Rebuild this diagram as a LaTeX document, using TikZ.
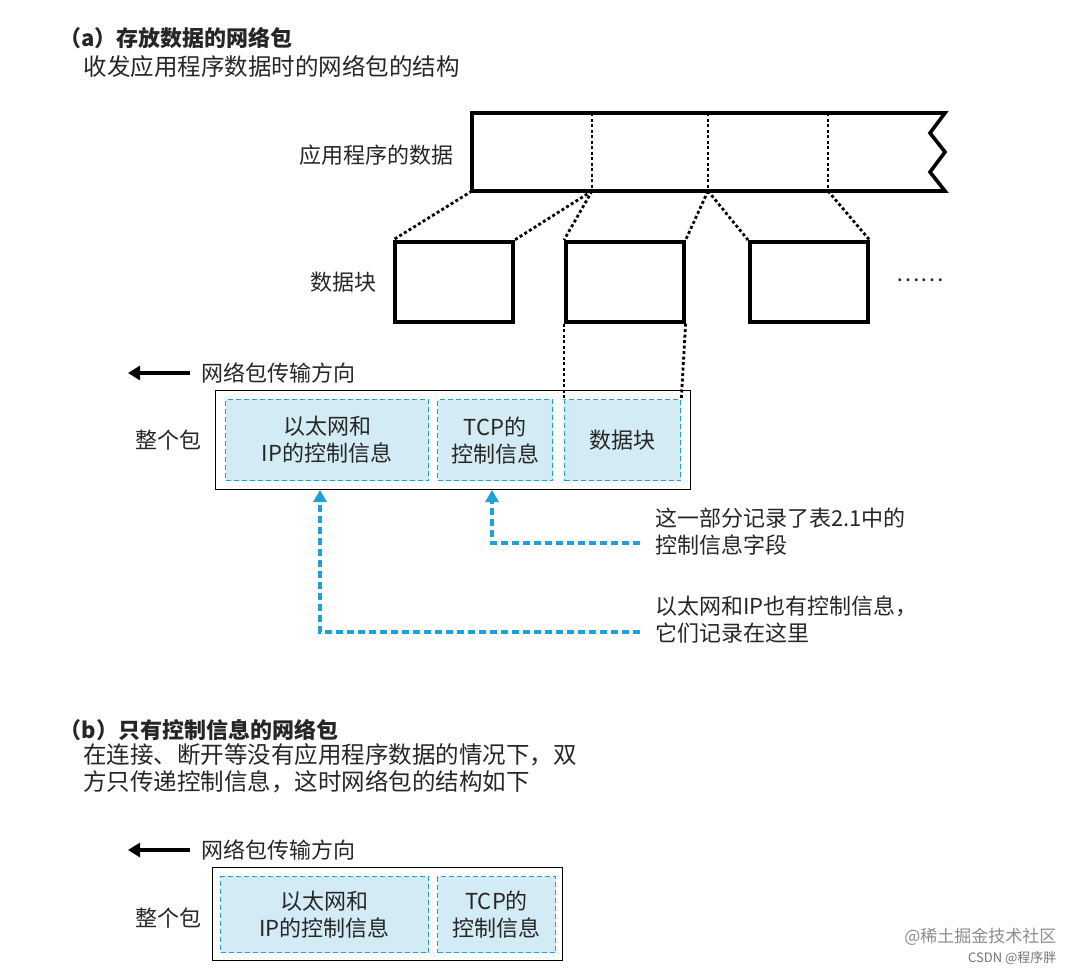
\documentclass[tikz,border=0pt]{standalone}
\usepackage{fontspec}
\setmainfont{Noto Sans CJK SC}
\usetikzlibrary{arrows.meta}
\definecolor{lblue}{HTML}{D2EBF5}
\definecolor{dblue}{HTML}{1FA0D8}
\begin{document}
\begin{tikzpicture}[x=1pt,y=-1pt,
  txt/.style={font=\fontsize{22}{27}\selectfont, text=black!85, align=left},
  sub/.style={font=\fontsize{23.5}{27}\selectfont, text=black!85, align=left},
  blk/.style={draw=black, line width=3.6pt},
  inner/.style={draw=dblue, dash pattern=on 5pt off 3pt, line width=1.3pt, fill=lblue},
  dots/.style={draw=black, dash pattern=on 3pt off 2.5pt, line width=2.8pt},
  bar/.style={draw=black, dash pattern=on 3pt off 2.5pt, line width=1.8pt},
  barrow/.style={draw=dblue, dash pattern=on 7pt off 4pt, line width=3.5pt, -{Triangle[length=12pt,width=13pt]}},
  karrow/.style={draw=black, line width=3.2pt, -{Triangle[length=12pt,width=14pt]}}]
\useasboundingbox (0,0) rectangle (1082,972);
% (a)
\node[txt, anchor=west, font=\fontsize{22}{27}\bfseries] (ta) at (56,38) {（a）存放数据的网络包};
\node[sub, anchor=west] (sa) at (80,66) {收发应用程序数据时的网络包的结构};
% data bar
\draw[blk] (945,113) -- (472,113) -- (472,191) -- (945,191) -- (930,172) -- (945,152) -- (930,133) -- cycle;
\coordinate (b0) at (472,191);
\coordinate (b1) at (592,191);
\coordinate (b2) at (708,191);
\coordinate (b3) at (828,191);
\draw[bar] (592,113) -- (b1);
\draw[bar] (708,113) -- (b2);
\draw[bar] (828,113) -- (b3);
\node[txt, anchor=east] (lapp) at (457,155) {应用程序的数据};
% chunks
\node[blk, minimum width=118pt, minimum height=80pt, anchor=north west] (c1) at (393,240) {};
\node[blk, minimum width=118pt, minimum height=80pt, anchor=north west] (c2) at (564,240) {};
\node[blk, minimum width=118pt, minimum height=80pt, anchor=north west] (c3) at (748,240) {};
\draw[dots] (b0) -- (c1.north west);
\draw[dots] (b1) -- (c1.north east);
\draw[dots] (b1) -- (c2.north west);
\draw[dots] (b2) -- (c2.north east);
\draw[dots] (b2) -- (c3.north west);
\draw[dots] (b3) -- (c3.north east);
\node[txt] (more) at (920,280) {……};
\node[txt, anchor=east] (lchunk) at (380,282) {数据块};
% direction
\coordinate (ar1) at (190,373);
\coordinate (ar2) at (128,373);
\draw[karrow] (ar1) -- (ar2);
\node[txt, anchor=west] (dir1) at (198,373) {网络包传输方向};
% whole packet
\node[draw=black, line width=1.2pt, minimum width=475pt, minimum height=99pt, anchor=north west] (pk) at (215,390) {};
\node[inner, minimum width=203pt, minimum height=81pt, anchor=north west, txt, align=center] (e1) at (225,399) {以太网和\\IP的控制信息};
\node[inner, minimum width=115pt, minimum height=81pt, anchor=north west, txt, align=center] (t1) at (437,399) {TCP的\\控制信息};
\node[inner, minimum width=116pt, minimum height=81pt, anchor=north west, txt, align=center] (d1) at (564,399) {数据块};
\draw[dots] (c2.south west) -- (d1.north west);
\draw[dots] (c2.south east) -- (d1.north east);
\node[txt, anchor=east] (whole1) at (205,440) {整个包};
% notes
\node[txt, anchor=north west, inner sep=0pt] (n1) at (655,508) {这一部分记录了表2.1中的\\控制信息字段};
\node[txt, anchor=north west, inner sep=0pt] (n2) at (655,596) {以太网和IP也有控制信息，\\它们记录在这里};
\draw[barrow] (640,543) -- (492,543) -- (492,490);
\draw[barrow] (640,632) -- (320,632) -- (320,490);
% (b)
\node[txt, anchor=west, font=\fontsize{22}{27}\bfseries] (tb) at (56,730) {（b）只有控制信息的网络包};
\node[sub, anchor=north west, inner sep=0pt] (sb) at (83,743) {在连接、断开等没有应用程序数据的情况下，双\\方只传递控制信息，这时网络包的结构如下};
\coordinate (br1) at (190,850);
\coordinate (br2) at (128,850);
\draw[karrow] (br1) -- (br2);
\node[txt, anchor=west] (dir2) at (198,850) {网络包传输方向};
\node[draw=black, line width=1.2pt, minimum width=350pt, minimum height=93pt, anchor=north west] (pk2) at (212,867) {};
\node[inner, minimum width=208pt, minimum height=76pt, anchor=north west, txt, align=center] (e2) at (220,876) {以太网和\\IP的控制信息};
\node[inner, minimum width=118pt, minimum height=76pt, anchor=north west, txt, align=center] (t2) at (437,876) {TCP的\\控制信息};
\node[txt, anchor=east] (whole2) at (205,918) {整个包};
% watermark
\node[anchor=east, text=black!45, font=\fontsize{17}{18}\selectfont] (wm1) at (1060,937) {@稀土掘金技术社区};
\node[anchor=east, text=black!55, font=\fontsize{13}{14}\selectfont] (wm2) at (1060,958) {CSDN @程序胖};
\end{tikzpicture}
\end{document}
